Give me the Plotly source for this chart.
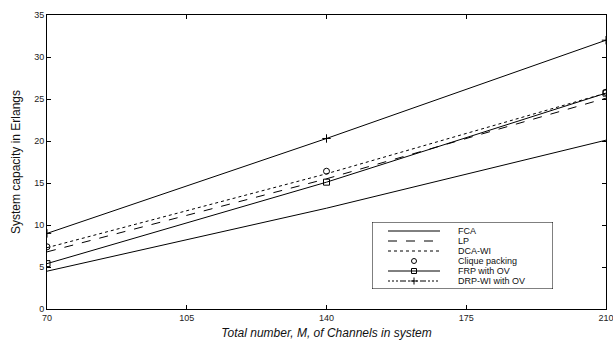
import plotly.graph_objects as go

channels = [70, 140, 210]
fca = [4.5, 12.0, 20.1]
lp = [6.8, 15.5, 25.1]
dca_wi = [7.3, 16.1, 25.7]
clique = [7.4, 16.4, 25.8]
frp_ov = [5.4, 15.1, 25.7]
drp_wi_ov = [9.0, 20.3, 32.0]

x_ticks = [70, 105, 140, 175, 210]
y_ticks = [0, 5, 10, 15, 20, 25, 30, 35]

series_names = ["FCA", "LP", "DCA-WI", "Clique packing", "FRP with OV", "DRP-WI with OV"]

black = "black"
font_family = "Liberation Sans, Arial, Helvetica"

# line styles and markers for each series
styles = [
    dict(mode="lines", dash="solid", symbol=None),
    dict(mode="lines", dash="dash", symbol=None),
    dict(mode="lines", dash="dot", symbol=None),
    dict(mode="markers", dash="solid", symbol="circle-open"),
    dict(mode="lines+markers", dash="solid", symbol="square-open"),
    dict(mode="lines+markers", dash="solid", symbol="cross-thin"),
]
values = [fca, lp, dca_wi, clique, frp_ov, drp_wi_ov]

fig = go.Figure()
for name, vals, st in zip(series_names, values, styles):
    kw = dict(x=channels, y=vals, name=name, mode=st["mode"], showlegend=False,
              line=dict(color=black, width=1, dash=st["dash"]))
    if st["symbol"]:
        kw["marker"] = dict(symbol=st["symbol"], size=6, color=black,
                            line=dict(width=1, color=black))
    fig.add_trace(go.Scatter(**kw))

# legend box drawn on its own small axis pair (units = pixels inside the box)
leg_w, leg_h = 181, 67
leg_rows = [9, 19, 29, 39, 49, 59]
leg_dash = ["solid", "dash", "dot", None, "solid", "2px,2px,2px,2px,2px,2px,6px,2px"]
leg_sym = [None, None, None, "circle-open", "square-open", "cross-thin"]
for name, row, dsh, sym in zip(series_names, leg_rows, leg_dash, leg_sym):
    if dsh is not None:
        fig.add_trace(go.Scatter(x=[16, 68], y=[row, row], mode="lines", xaxis="x2", yaxis="y2",
                                 showlegend=False, hoverinfo="skip",
                                 line=dict(color=black, width=1, dash=dsh)))
    if sym is not None:
        fig.add_trace(go.Scatter(x=[42], y=[row], mode="markers", xaxis="x2", yaxis="y2",
                                 showlegend=False, hoverinfo="skip",
                                 marker=dict(symbol=sym, size=5, color=black,
                                             line=dict(width=1, color=black))))
    fig.add_annotation(x=84, y=row, xref="x2", yref="y2", text=name, showarrow=False,
                       xanchor="left", yanchor="middle",
                       font=dict(family=font_family, size=9, color="#111"))

# white backing and frame for the legend box
fig.add_shape(type="rect", xref="x2", yref="y2", x0=0, x1=leg_w, y0=0, y1=leg_h,
              line=dict(width=0), fillcolor="white", layer="below")
fig.add_shape(type="rect", xref="x2", yref="y2", x0=0, x1=leg_w, y0=0, y1=leg_h,
              line=dict(color=black, width=1), fillcolor="rgba(0,0,0,0)", layer="above")

axis_common = dict(
    showline=True, linecolor=black, linewidth=1, mirror="ticks",
    ticks="inside", ticklen=4, tickcolor=black, showgrid=False, zeroline=False,
    tickfont=dict(family=font_family, size=9, color="#222"), automargin=False,
    ticklabeloverflow="allow",
)
fig.update_layout(
    xaxis=dict(range=[70, 210], tickvals=x_ticks, **axis_common,
               title=dict(text="<i>Total number, M, of Channels in system</i>",
                          font=dict(family=font_family, size=12, color="#111"),
                          standoff=6)),
    yaxis=dict(range=[0, 35], tickvals=y_ticks, **axis_common,
               title=dict(text="System capacity in Erlangs",
                          font=dict(family=font_family, size=12, color="#111"),
                          standoff=10)),
    xaxis2=dict(domain=[325 / 559, 506 / 559], range=[0, leg_w], anchor="y2",
                visible=False, fixedrange=True),
    yaxis2=dict(domain=[20 / 294, 87 / 294], range=[leg_h, 0], anchor="x2",
                visible=False, fixedrange=True),
    width=613, height=343,
    margin=dict(l=47, r=7, t=15, b=34),
    paper_bgcolor="white", plot_bgcolor="white",
    showlegend=False,
)

fig.write_html("out.html")
